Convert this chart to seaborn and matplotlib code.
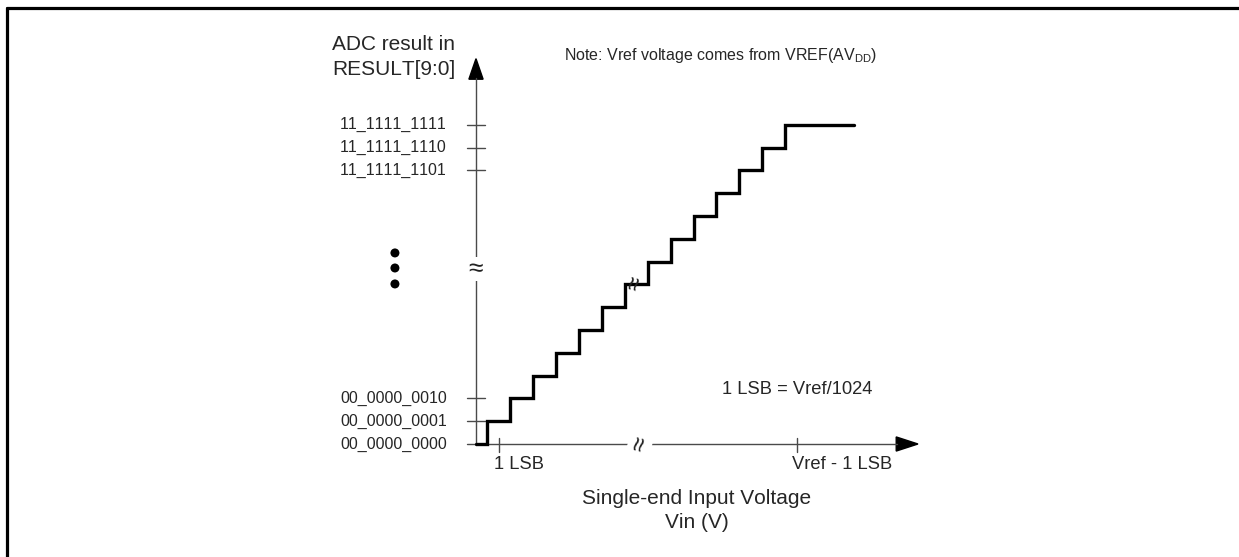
"""
ADC transfer characteristic (10-bit, single-ended) redrawn with seaborn.
"""
import matplotlib.pyplot as plt
import pandas as pd
import seaborn as sns
from matplotlib.lines import Line2D
from matplotlib.patches import Polygon

# staircase in LSB units, the axis is broken between code 7 and code 1017
step_edges = [0, 0.5, 1.5, 2.5, 3.5, 4.5, 5.5, 6.5, 7.5, 8.5, 9.5, 10.5, 11.5, 12.5, 13.5, 16.5]
step_levels = [0, 1, 2, 3, 4, 5, 6, 7, 8, 9, 10, 11, 12, 13, 14, 14]

code_levels = [0, 1, 2, 12, 13, 14]
code_labels = ["00_0000_0000", "00_0000_0001", "00_0000_0010",
               "11_1111_1101", "11_1111_1110", "11_1111_1111"]

vin_ticks = [1, 14]
vin_labels = ["1 LSB", "Vref - 1 LSB"]

# vertical "..." next to the y axis break
ellipsis_x = [-3.54, -3.54, -3.54]
ellipsis_y = [8.38, 7.72, 7.02]

W, H = 1239, 557
AXIS_COLOR = "#4a4a4a"


def fpos(x, y):
    """pixel position -> figure fraction"""
    return x / W, 1 - y / H


sns.set_theme(style="white")
plt.rcParams["font.family"] = ["Liberation Sans", "DejaVu Sans"]
plt.rcParams["mathtext.fontset"] = "custom"
plt.rcParams["mathtext.rm"] = "Liberation Sans"
# the original has no kerning ("11" pairs would shrink otherwise)
if "text.kerning_factor" in plt.rcParams:
    plt.rcParams["text.kerning_factor"] = 20

fig = plt.figure(figsize=(W / 100, H / 100), dpi=100)
ax = fig.add_axes([0, 0, 1, 1])

# axes with arrow heads
ax.plot([0, 18.4], [0, 0], color=AXIS_COLOR, lw=1)
ax.plot([0, 0], [-0.05, 16.05], color=AXIS_COLOR, lw=1)
ax.add_patch(Polygon([[18.35, -0.31], [19.3, 0], [18.35, 0.31]], closed=True, color="black"))
ax.add_patch(Polygon([[-0.31, 16.0], [0, 16.9], [0.31, 16.0]], closed=True, color="black"))

# y ticks with binary codes
for lv, lab in zip(code_levels, code_labels):
    ax.plot([-0.4, 0.4], [lv, lv], color=AXIS_COLOR, lw=1)
    ax.text(-1.27, lv, lab, ha="right", va="center", fontsize=11.5)

# x ticks
for t, lab in zip(vin_ticks, vin_labels):
    ax.plot([t, t], [0.26, -0.35], color=AXIS_COLOR, lw=1)
    ax.text(t - 0.22, -0.9, lab, ha="left", va="center", fontsize=13.2)

# the staircase
df = pd.DataFrame({"vin": step_edges, "code": step_levels})
sns.lineplot(data=df, x="vin", y="code", ax=ax, drawstyle="steps-post", color="black",
             lw=2.4, estimator=None, sort=False, legend=False, solid_joinstyle="miter")

sns.scatterplot(x=ellipsis_x, y=ellipsis_y, ax=ax, color="black", s=42, edgecolor="none")

# break marks
ax.text(0, 7.68, "≈", ha="center", va="center", fontsize=19, color="#222222",
        bbox=dict(facecolor="white", edgecolor="none", pad=0))
ax.text(7.16, 0, "≈", ha="center", va="center", fontsize=19, rotation=75, color="#222222",
        bbox=dict(facecolor="white", edgecolor="none", pad=0))
ax.text(6.95, 7.05, "≈", ha="center", va="center", fontsize=18, rotation=75, color="#222222")

# 1 LSB is about 22.9 px, origin at pixel (476, 444)
ax.set_xlim(-476 / 22.9, (W - 476) / 22.9)
ax.set_ylim(-(H - 444) / 22.8, 444 / 22.8)
ax.axis("off")

fig.text(*fpos(332, 50), "ADC result in", ha="left", va="baseline", fontsize=15)
fig.text(*fpos(332, 75), "RESULT[9:0]", ha="left", va="baseline", fontsize=15)
fig.text(*fpos(721, 60), r"Note: Vref voltage comes from VREF(AV$_{\mathrm{DD}}$)",
         ha="center", va="baseline", fontsize=11.5)
fig.text(*fpos(722, 394), "1 LSB = Vref/1024", ha="left", va="baseline", fontsize=13.2)
fig.text(*fpos(697, 504), "Single-end Input Voltage", ha="center", va="baseline", fontsize=15)
fig.text(*fpos(697, 528), "Vin (V)", ha="center", va="baseline", fontsize=15)

# frame on top and left of the drawing
fig.add_artist(Line2D([7 / W, 1], [1 - 8 / H, 1 - 8 / H], transform=fig.transFigure, color="black", lw=2.3))
fig.add_artist(Line2D([7 / W, 7 / W], [0, 1 - 8 / H], transform=fig.transFigure, color="black", lw=2.3))

fig.savefig("out.png", dpi=100)
